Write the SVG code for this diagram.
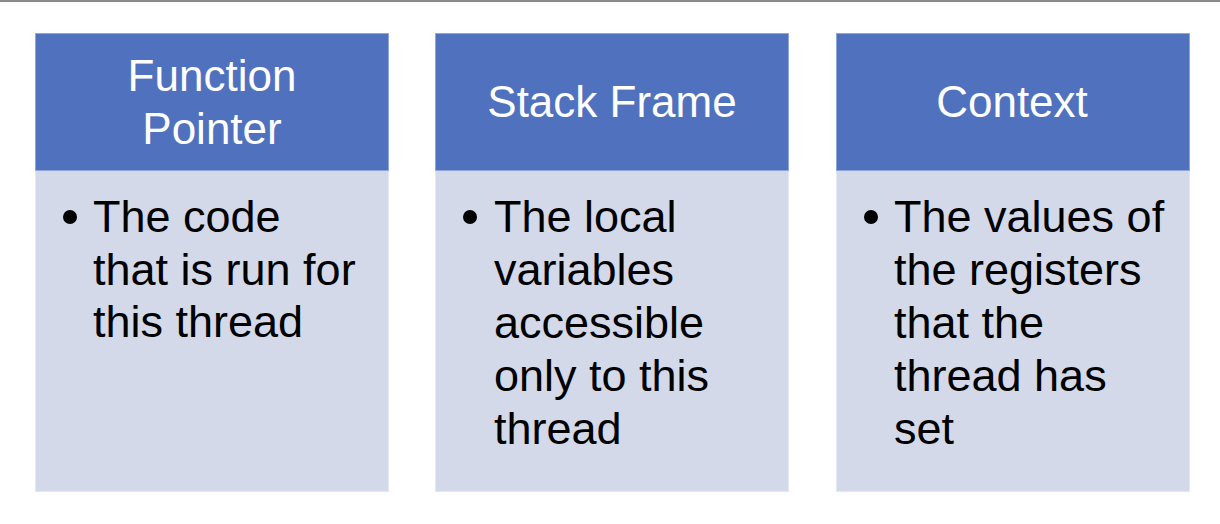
<svg xmlns="http://www.w3.org/2000/svg" width="1220" height="524" viewBox="0 0 1220 524">
<style>
.hd{fill:#5072BE;stroke:#8FA6D8;stroke-width:1}
.bd{fill:#D3D9E9;stroke:#E3E7F1;stroke-width:1}
.ht{font-family:"Liberation Sans",Arial,sans-serif;font-size:44px;fill:#FFFFFF;text-anchor:middle}
.bt{font-family:"Liberation Sans",Arial,sans-serif;font-size:45px;fill:#000000}
</style>
<rect x="0" y="0" width="1220" height="524" fill="#FFFFFF"/>
<line x1="0" y1="1" x2="1220" y2="1" stroke="#8A8A8A" stroke-width="2"/>
<g id="node-function-pointer">
<rect class="bd" x="35.5" y="170.5" width="353" height="321"/>
<rect class="hd" x="35.5" y="33.5" width="353" height="137"/>
<text class="ht" x="212" y="91">Function</text>
<text class="ht" x="212" y="144">Pointer</text>
<circle cx="70" cy="217" r="7" fill="#000"/>
<text class="bt" x="93" y="232">The code</text>
<text class="bt" x="93" y="285">that is run for</text>
<text class="bt" x="93" y="337">this thread</text>
</g>
<g id="node-stack-frame">
<rect class="bd" x="435.5" y="170.5" width="353" height="321"/>
<rect class="hd" x="435.5" y="33.5" width="353" height="137"/>
<text class="ht" x="612" y="117">Stack Frame</text>
<circle cx="470" cy="217" r="7" fill="#000"/>
<text class="bt" x="494" y="232">The local</text>
<text class="bt" x="494" y="285">variables</text>
<text class="bt" x="494" y="338">accessible</text>
<text class="bt" x="494" y="391">only to this</text>
<text class="bt" x="494" y="444">thread</text>
</g>
<g id="node-context">
<rect class="bd" x="836.5" y="170.5" width="353" height="321"/>
<rect class="hd" x="836.5" y="33.5" width="353" height="137"/>
<text class="ht" x="1012" y="117">Context</text>
<circle cx="871" cy="217" r="7" fill="#000"/>
<text class="bt" x="894" y="232">The values of</text>
<text class="bt" x="894" y="285">the registers</text>
<text class="bt" x="894" y="338">that the</text>
<text class="bt" x="894" y="391">thread has</text>
<text class="bt" x="894" y="444">set</text>
</g>
<g id="connectors"></g>
</svg>
